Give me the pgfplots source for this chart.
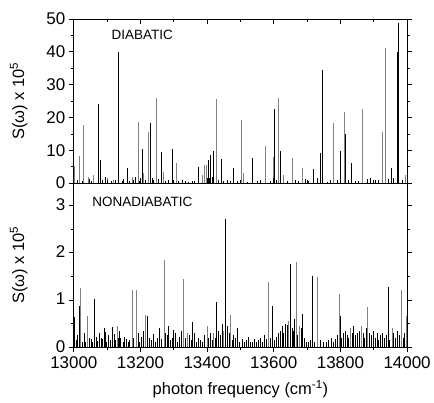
\documentclass[border=0pt]{standalone}
\usepackage{fontspec}
\setmainfont{Liberation Sans}
\usepackage{pgfplots}
\pgfplotsset{compat=1.18}
\begin{document}
\begin{tikzpicture}
\pgfplotsset{
  stick/.style={ycomb, mark=none, line width=0.9pt},
  every axis/.append style={
    scale only axis, width=334pt, height=164.5pt,
    xmin=13000, xmax=14000,
    xtick={13000,13200,...,14000},
    scaled x ticks=false, scaled y ticks=false,
    minor x tick num=1, minor y tick num=1,
    major tick length=5pt, minor tick length=3pt,
    tick style={black, line width=0.7pt},
    axis line style={line width=0.9pt},
    /pgf/number format/assume math mode=true,
    /pgf/number format/1000 sep={},
    tick label style={font=\fontsize{17}{17}\selectfont},
    label style={font=\fontsize{16.5}{18}\selectfont},
    ytick align=outside,
    clip=true,
  },
}
\begin{axis}[name=top,
  ymin=0, ymax=50, ytick={0,10,...,50},
  xticklabels={}, xtick align=inside,
  ylabel={S(ω) x 10\textsuperscript{5}},
  ylabel style={at={(axis description cs:-0.165,0.5)}, anchor=center},
]
% grass
\addplot[stick, black] coordinates {(13010,1.0)(13025,0.5)(13048,1.2)(13052,0.6)(13086,0.8)(13095,2.0)(13112,0.5)(13125,0.8)(13145,0.6)(13150,1.2)(13168,0.7)(13180,1.0)(13185,2.0)(13198,0.6)(13215,1.0)(13235,1.5)(13240,0.8)(13255,1.2)(13275,0.6)(13285,0.9)(13315,0.5)(13325,0.8)(13335,0.6)(13345,0.4)(13355,0.5)(13362,0.7)(13408,1.5)(13415,2.0)(13435,1.0)(13450,0.5)(13462,0.8)(13470,0.6)(13490,0.5)(13520,0.4)(13550,0.6)(13560,0.8)(13590,0.7)(13608,1.0)(13640,0.6)(13665,0.8)(13675,0.5)(13695,1.2)(13705,0.6)(13730,1.5)(13760,0.4)(13770,1.0)(13790,0.8)(13825,1.0)(13845,0.5)(13855,0.7)(13880,1.2)(13890,1.4)(13905,0.8)(13915,1.0)(13945,1.2)(13960,1.5)(13985,1.0)};
% gray sticks
\addplot[stick, gray] coordinates {(13002,5.3)(13018,8.3)(13030,17.6)(13043,2.0)(13058,2.5)(13100,1.5)(13118,1.0)(13175,2.0)(13193,18.6)(13210,3.2)(13223,15.6)(13247,25.9)(13268,3.4)(13309,6.1)(13385,2.5)(13393,5.5)(13398,5.5)(13428,25.5)(13503,19.1)(13510,3.0)(13575,11.3)(13600,8.0)(13615,26.0)(13630,2.6)(13655,7.6)(13685,4.6)(13778,18.4)(13812,21.7)(13866,22.6)(13927,15.6)(13934,41.1)(13995,2.5)};
% black sticks
\addplot[stick, black] coordinates {(13073,24.1)(13080,7.0)(13133,39.8)(13160,4.6)(13207,10.3)(13229,18.4)(13263,9.5)(13296,10.5)(13373,4.8)(13403,7.0)(13411,8.6)(13420,9.8)(13444,7.2)(13478,4.6)(13537,7.5)(13603,22.7)(13621,9.8)(13718,4.3)(13740,9.2)(13745,34.5)(13801,9.8)(13814,15.0)(13834,6.1)(13952,4.6)(13970,39.8)(13973,48.7)};
\node[anchor=west, font=\fontsize{13.5}{14}\selectfont] at (axis cs:13103,45.2) {DIABATIC};
\end{axis}
\begin{axis}[at={(top.south west)}, anchor=north west,
  ymin=0, ymax=3.47, ytick={0,1,2,3},
  xtick align=outside,
  xticklabel style={yshift=-1pt},
  yticklabel style={yshift=1pt},
  ylabel={S(ω) x 10\textsuperscript{5}},
  ylabel style={at={(axis description cs:-0.165,0.5)}, anchor=center},
  xlabel={photon frequency (cm\textsuperscript{-1})},
  xlabel style={at={(axis description cs:0.5,-0.255)}, anchor=center},
]
% grass
\addplot[stick, black] coordinates {(13008,.15)(13012,.25)(13026,.1)(13033,.3)(13036,.12)(13048,.2)(13052,.18)(13057,.1)(13068,.22)(13072,.14)(13077,.3)(13087,.18)(13091,.4)(13099,.12)(13104,.25)(13109,.16)(13121,.28)(13125,.15)(13137,.35)(13141,.2)(13148,.12)(13152,.22)(13158,.18)(13163,.1)(13168,.15)(13180,.2)(13193,.3)(13198,.12)(13204,.22)(13210,.35)(13226,.2)(13232,.15)(13238,.28)(13244,.12)(13250,.2)(13256,.4)(13262,.18)(13280,.25)(13290,.15)(13295,.2)(13305,.3)(13312,.12)(13318,.22)(13322,.35)(13335,.2)(13348,.25)(13352,.15)(13362,.3)(13368,.12)(13375,.2)(13380,.15)(13386,.1)(13392,.25)(13405,.2)(13410,.3)(13415,.15)(13425,.2)(13435,.35)(13440,.25)(13445,.5)(13466,.3)(13475,.15)(13480,.25)(13486,.2)(13492,.4)(13498,.12)(13505,.18)(13512,.1)(13518,.15)(13524,.22)(13530,.1)(13536,.12)(13542,.18)(13548,.1)(13555,.15)(13560,.2)(13566,.12)(13572,.25)(13578,.18)(13590,.2)(13602,.15)(13608,.22)(13614,.3)(13620,.35)(13625,.45)(13630,.3)(13635,.5)(13660,.35)(13672,.25)(13682,.4)(13692,.2)(13698,.12)(13705,.1)(13710,.15)(13722,.12)(13740,.15)(13750,.1)(13758,.12)(13765,.15)(13772,.2)(13778,.1)(13785,.18)(13790,.25)(13803,.2)(13808,.3)(13815,.35)(13820,.25)(13825,.2)(13835,.3)(13840,.45)(13846,.25)(13852,.3)(13858,.35)(13868,.3)(13873,.2)(13878,.4)(13888,.3)(13893,.25)(13898,.35)(13905,.2)(13910,.3)(13915,.15)(13920,.25)(13926,.3)(13932,.2)(13938,.25)(13948,.15)(13960,.3)(13965,.2)(13970,.35)(13976,.25)(13988,.2)};
% gray sticks
\addplot[stick, gray] coordinates {(13021,1.26)(13041,0.65)(13131,0.45)(13175,1.21)(13188,1.21)(13215,0.68)(13271,1.84)(13328,1.45)(13342,0.3)(13400,0.45)(13420,0.3)(13450,0.35)(13470,0.68)(13583,1.37)(13645,0.55)(13669,1.81)(13678,0.45)(13730,1.49)(13796,1.12)(13830,0.4)(13863,0.45)(13882,0.84)(13955,0.4)(13983,1.2)(13997,0.65)};
% black sticks
\addplot[stick, black] coordinates {(13002,0.63)(13016,0.87)(13061,1.03)(13082,0.2)(13095,0.33)(13115,0.43)(13133,0.2)(13221,0.66)(13275,0.3)(13285,0.45)(13300,0.37)(13356,0.53)(13429,0.96)(13455,2.71)(13462,0.45)(13595,0.87)(13640,0.47)(13650,1.77)(13655,0.4)(13663,0.6)(13687,0.7)(13716,1.51)(13799,0.66)(13943,1.27)(13993,0.3)};
\node[anchor=west, font=\fontsize{13.5}{14}\selectfont] at (axis cs:13045,3.07) {NONADIABATIC};
\end{axis}
\path (top.north west) ++(-74pt,19pt) coordinate (bbA);
\path (top.south east) ++(26pt,-220pt) coordinate (bbB);
\path (bbA) rectangle (bbB);
\end{tikzpicture}
\end{document}
